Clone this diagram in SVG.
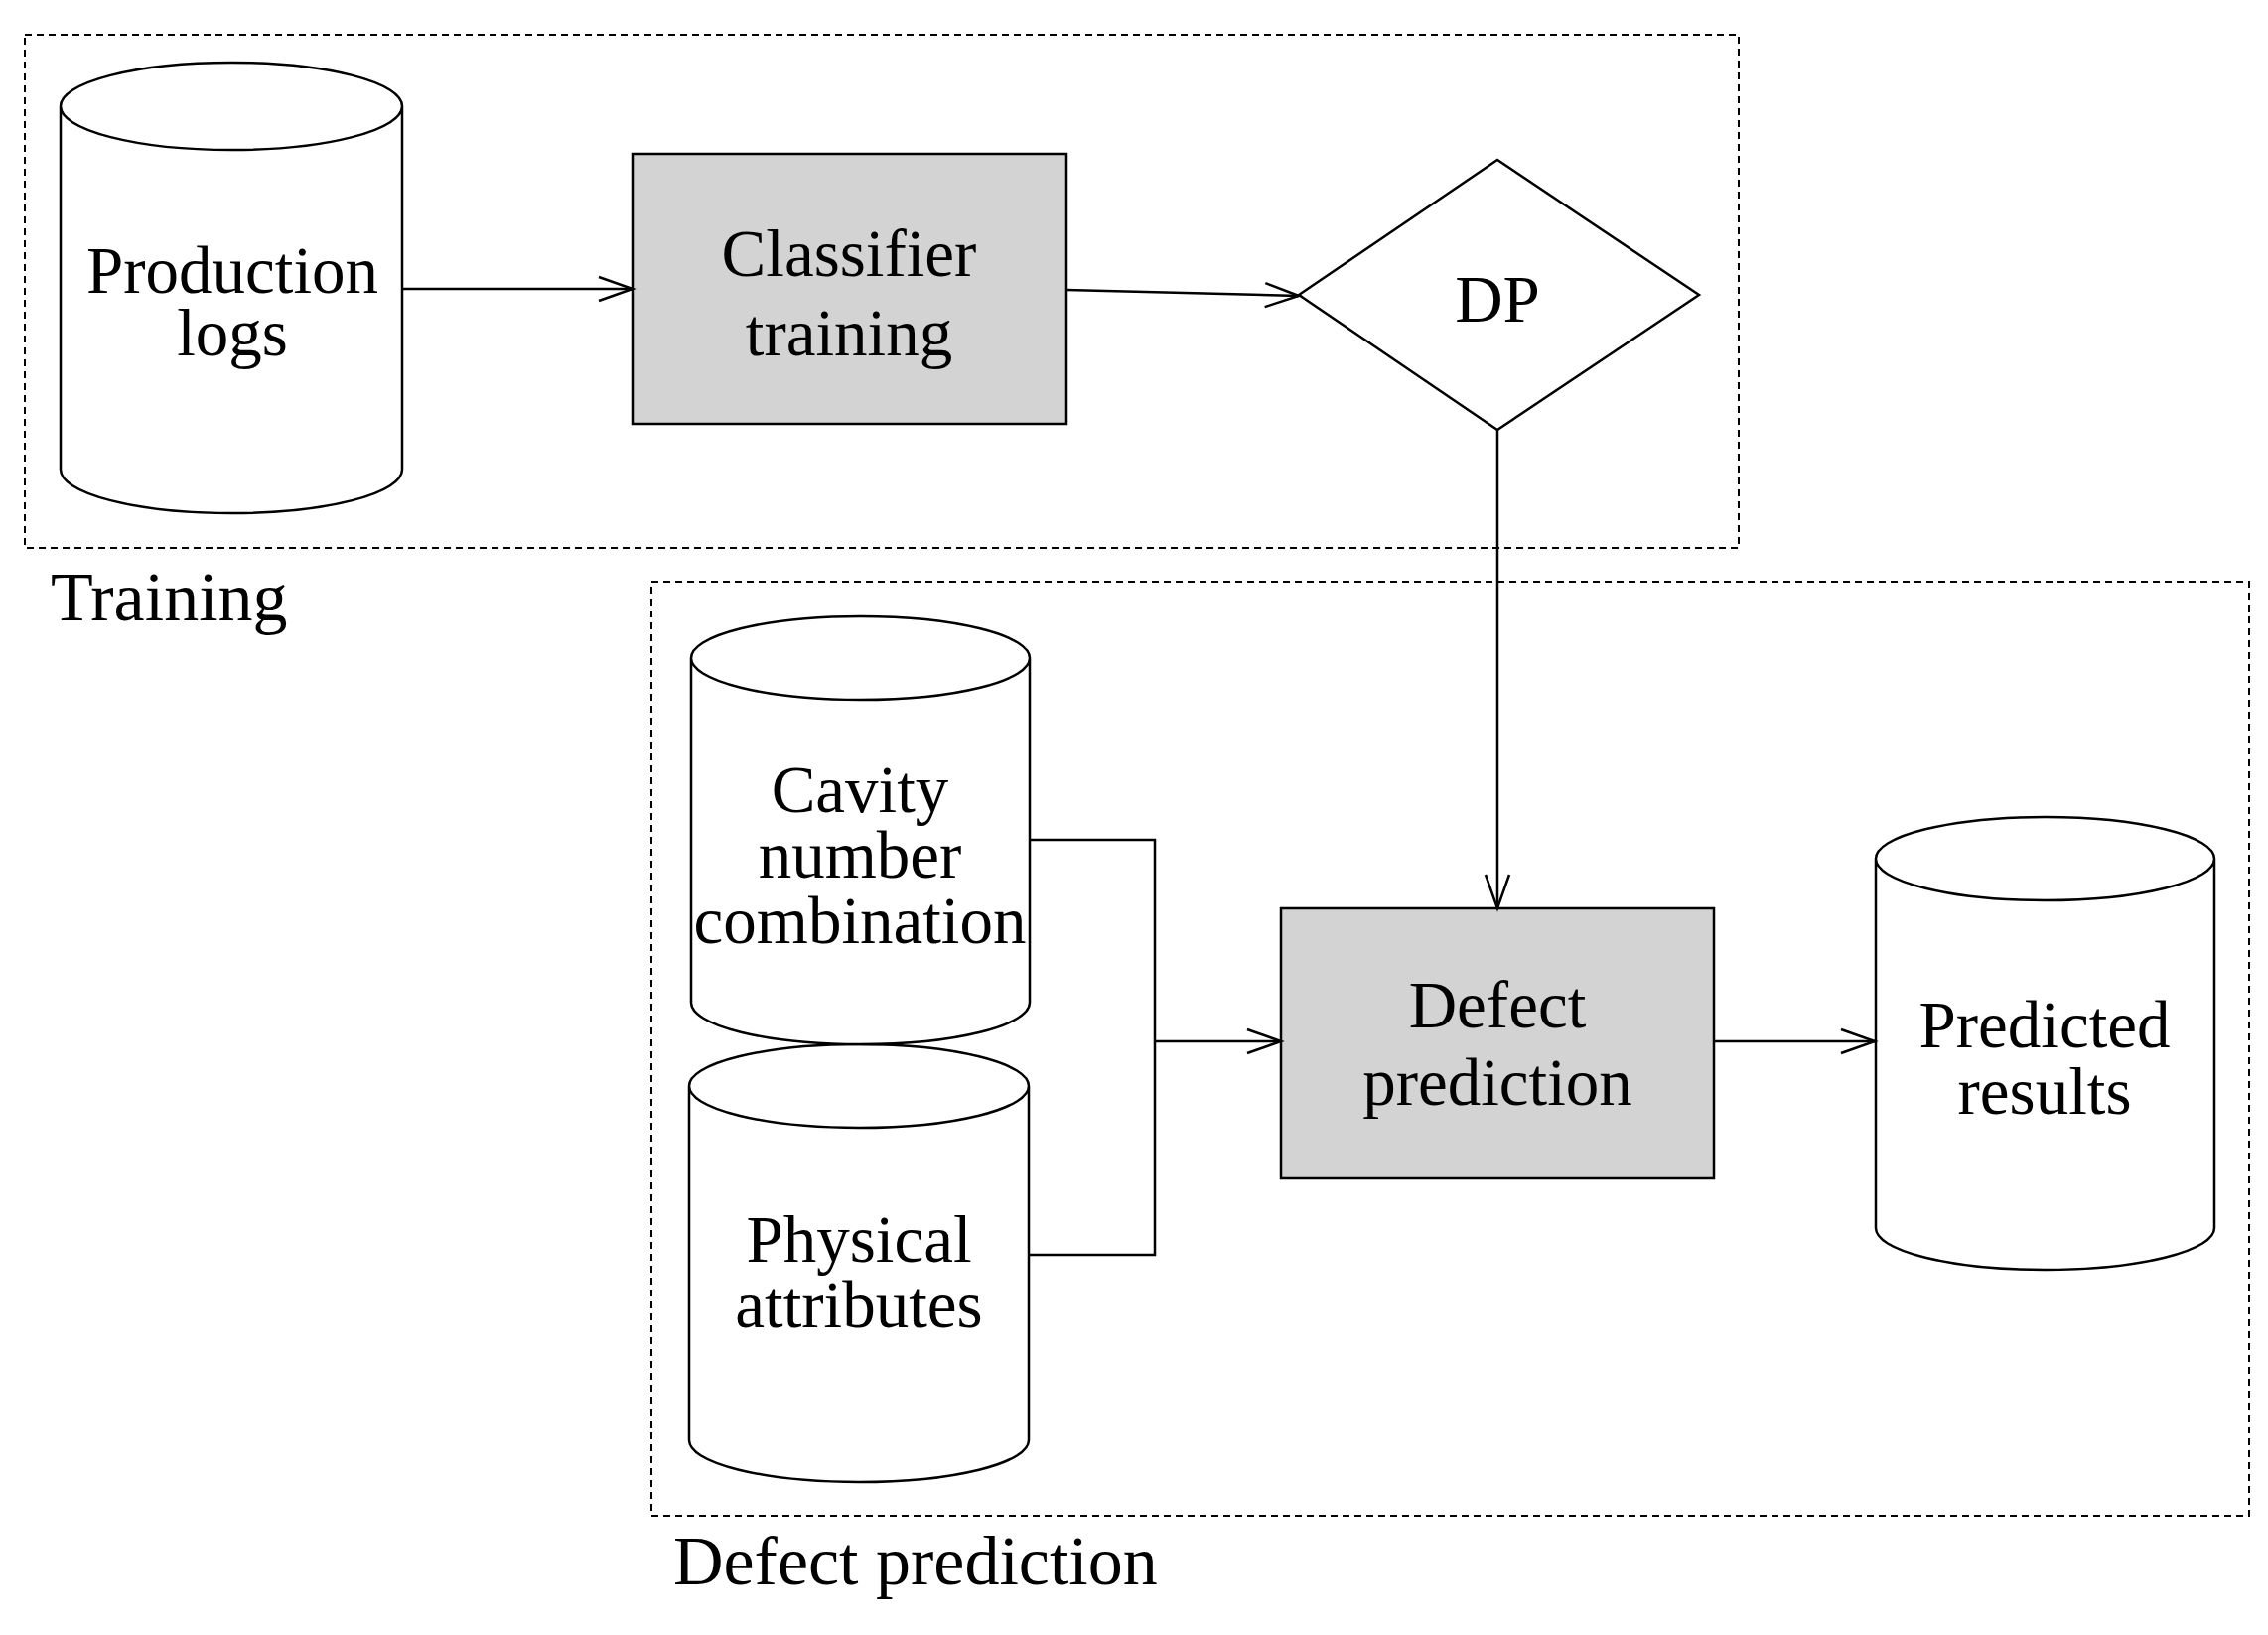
<svg xmlns="http://www.w3.org/2000/svg" width="2284" height="1647" viewBox="0 0 2284 1647">
<style>
.s{fill:#fff;stroke:#000;stroke-width:2.5}
.g{fill:#d3d3d3;stroke:#000;stroke-width:2.5}
.d{fill:none;stroke:#000;stroke-width:2;stroke-dasharray:7 5}
.c{fill:none;stroke:#000;stroke-width:2.5}
text{font-family:"Liberation Serif","Times New Roman",serif;font-size:67px;fill:#000}
.l{font-size:70px}
.m{text-anchor:middle}
</style>
<defs>
<marker id="a" markerWidth="40" markerHeight="40" refX="36" refY="14" orient="auto" markerUnits="userSpaceOnUse">
<polyline points="2,2 36,14 2,26" fill="none" stroke="#000" stroke-width="2.5"/>
</marker>
</defs>
<rect class="d" x="25" y="35" width="1726" height="517"/>
<text class="l" x="51" y="625">Training</text>
<rect class="d" x="656" y="586" width="1609" height="941"/>
<text class="l" x="678" y="1596">Defect prediction</text>
<g id="production-logs">
<path class="s" d="M61,107 V473 A172,44 0 0 0 405,473 V107 A172,44 0 0 0 61,107 A172,44 0 0 0 405,107"/>
<text class="m" x="234" y="295">Production</text>
<text class="m" x="234" y="358">logs</text>
</g>
<g id="classifier-training">
<rect class="g" x="637" y="155" width="437" height="272"/>
<text class="m" x="855" y="278">Classifier</text>
<text class="m" x="855" y="358">training</text>
</g>
<g id="dp">
<polygon class="s" points="1308,297 1508,161 1711,297 1508,433"/>
<text class="m" x="1508" y="324">DP</text>
</g>
<g id="physical-attributes">
<path class="s" d="M694,1094 V1451 A171,42 0 0 0 1036,1451 V1094 A171,42 0 0 0 694,1094 A171,42 0 0 0 1036,1094"/>
<text class="m" x="865" y="1271">Physical</text>
<text class="m" x="865" y="1337">attributes</text>
</g>
<g id="cavity-number-combination">
<path class="s" d="M696,663 V1010 A170.5,42 0 0 0 1037,1010 V663 A170.5,42 0 0 0 696,663 A170.5,42 0 0 0 1037,663"/>
<text class="m" x="866" y="818">Cavity</text>
<text class="m" x="866" y="884">number</text>
<text class="m" x="866" y="950">combination</text>
</g>
<g id="defect-prediction">
<rect class="g" x="1290" y="915" width="436" height="272"/>
<text class="m" x="1508" y="1035">Defect</text>
<text class="m" x="1508" y="1113">prediction</text>
</g>
<g id="predicted-results">
<path class="s" d="M1889,865 V1237 A170.5,42 0 0 0 2230,1237 V865 A170.5,42 0 0 0 1889,865 A170.5,42 0 0 0 2230,865"/>
<text class="m" x="2059" y="1055">Predicted</text>
<text class="m" x="2059" y="1122">results</text>
</g>
<g id="connectors">
<line class="c" x1="405" y1="291" x2="637" y2="291" marker-end="url(#a)"/>
<line class="c" x1="1074" y1="292" x2="1308" y2="298" marker-end="url(#a)"/>
<line class="c" x1="1508" y1="433" x2="1508" y2="915" marker-end="url(#a)"/>
<polyline class="c" points="1037,846 1163,846 1163,1264 1036,1264"/>
<line class="c" x1="1163" y1="1049" x2="1290" y2="1049" marker-end="url(#a)"/>
<line class="c" x1="1726" y1="1049" x2="1888" y2="1049" marker-end="url(#a)"/>
</g>
</svg>
